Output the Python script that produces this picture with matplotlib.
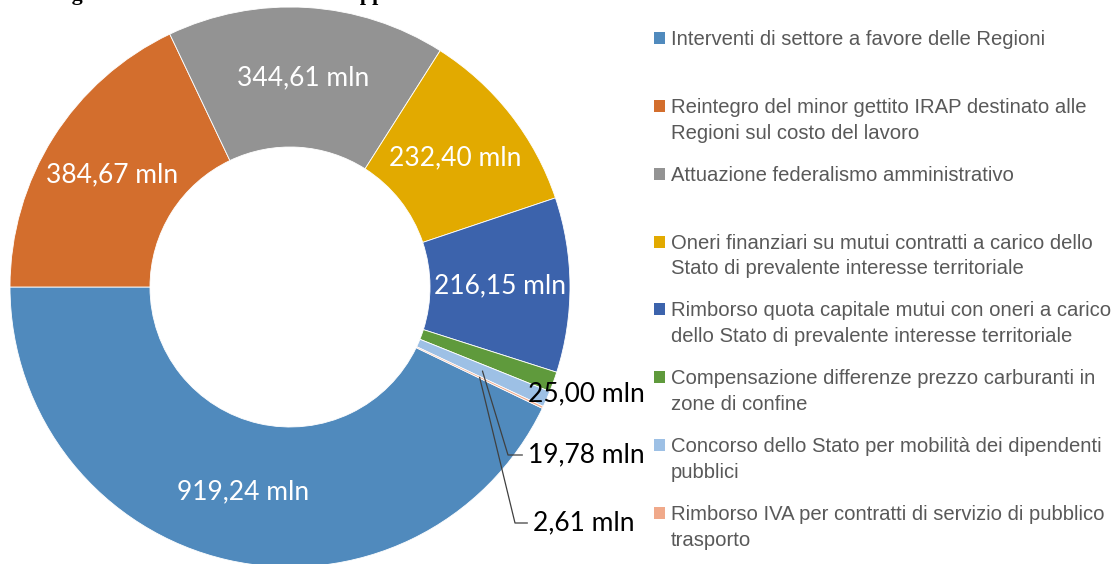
import math
import matplotlib
matplotlib.use("Agg")
import matplotlib.pyplot as plt
from matplotlib.patches import Rectangle

# voci di spesa (mln di euro)
categorie = [
    "Interventi di settore a favore delle Regioni",
    "Reintegro del minor gettito IRAP destinato alle\nRegioni sul costo del lavoro",
    "Attuazione federalismo amministrativo",
    "Oneri finanziari su mutui contratti a carico dello\nStato di prevalente interesse territoriale",
    "Rimborso quota capitale mutui con oneri a carico\ndello Stato di prevalente interesse territoriale",
    "Compensazione differenze prezzo carburanti in\nzone di confine",
    "Concorso dello Stato per mobilità dei dipendenti\npubblici",
    "Rimborso IVA per contratti di servizio di pubblico\ntrasporto",
]
valori = [919.24, 384.67, 344.61, 232.40, 216.15, 25.00, 19.78, 2.61]
colori = ["#508abd", "#d36e2d", "#939393", "#e2aa00",
          "#3c63ac", "#5f9a3c", "#9dc0e5", "#f0a98a"]

W, H = 1116, 564
fig = plt.figure(figsize=(W / 100, H / 100), dpi=100)
ax = fig.add_axes([0, 0, 1, 1])

# centro della ciambella a (290, 287) px, raggio 280 px
cx, cy, R = 290, 287, 280
tot = sum(valori)
start = valori[0] / tot * 360 - 180

wedges, _ = ax.pie(valori, colors=colori, startangle=start, counterclock=False,
                   radius=1, wedgeprops=dict(width=0.5, edgecolor="white", linewidth=0.6))
ax.set_aspect("auto")
ax.set_xlim(-cx / R, (W - cx) / R)
ax.set_ylim((cy - H) / R, cy / R)
ax.axis("off")

label_font = ["Lato", "DejaVu Sans"]


def fmt(v):
    return f"{v:.2f}".replace(".", ",") + " mln"


mids = [math.radians((w.theta1 + w.theta2) / 2) for w in wedges]

# etichette interne
for i in range(5):
    ax.text(0.75 * math.cos(mids[i]), 0.75 * math.sin(mids[i]), fmt(valori[i]),
            ha="center", va="center", color="white", fontsize=19, family=label_font)

# etichette esterne
ax.text((528 - cx) / R, (cy - 394) / R, fmt(valori[5]), ha="left", va="center",
        color="black", fontsize=19, family=label_font)

ext = [(6, 528, 455, 508), (7, 533, 523, 515)]
for i, tx, ty, ex in ext:
    px = 0.75 * math.cos(mids[i])
    py = 0.75 * math.sin(mids[i])
    ex_d = (ex - cx) / R
    ey_d = (cy - ty) / R
    ang = math.degrees(math.atan2(ey_d - py, ex_d - px))
    ax.annotate(fmt(valori[i]), xy=(px, py), xytext=((tx - cx) / R, ey_d),
                ha="left", va="center", color="black", fontsize=19, family=label_font,
                arrowprops=dict(arrowstyle="-", color="#404040", lw=0.9,
                                shrinkA=2, shrinkB=0, relpos=(0, 0.5),
                                connectionstyle=f"angle,angleA=180,angleB={ang},rad=0"))

# legenda
for i, (lab, col) in enumerate(zip(categorie, colori)):
    yc = 38 + i * 67.86
    fig.add_artist(Rectangle((654 / W, 1 - (yc + 6) / H), 11 / W, 12 / H,
                             transform=fig.transFigure, color=col, lw=0))
    fig.text(671 / W, 1 - (yc - 8) / H, lab, ha="left", va="top",
             color="#595959", fontsize=14.6, family=["Liberation Sans", "DejaVu Sans"],
             linespacing=1.45)

# titolo (tagliato dal bordo superiore)
fig.text(52 / W, 1.0, "Figura 12 – Le risorse dello sviluppo", ha="left", va="baseline",
         fontsize=15.8, fontweight="bold", family=["Liberation Serif", "DejaVu Serif"])

fig.savefig("out.png", dpi=100)
